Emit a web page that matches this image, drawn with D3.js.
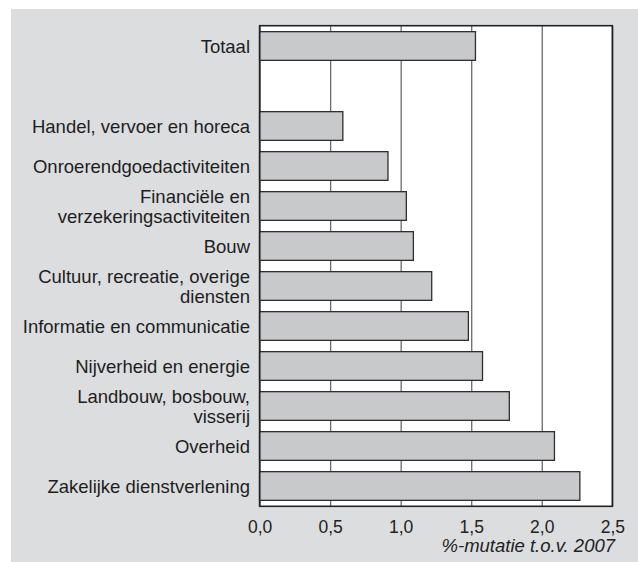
<!DOCTYPE html>
<html>
<head>
<meta charset="utf-8">
<script src="https://cdn.jsdelivr.net/npm/d3@7"></script>
<style>
  body { margin: 0; background: #fff; }
  svg { display: block; font-family: "Liberation Sans", Arial, sans-serif; }
</style>
</head>
<body>
<svg width="638" height="562"></svg>
<script>
// categories top to bottom; the empty one is the gap under Totaal
var categories = [
  "Totaal",
  "",
  "Handel, vervoer en horeca",
  "Onroerendgoedactiviteiten",
  "Financiële en\nverzekeringsactiviteiten",
  "Bouw",
  "Cultuur, recreatie, overige\ndiensten",
  "Informatie en communicatie",
  "Nijverheid en energie",
  "Landbouw, bosbouw,\nvisserij",
  "Overheid",
  "Zakelijke dienstverlening"
];
var values = [1.53, null, 0.59, 0.91, 1.04, 1.09, 1.22, 1.48, 1.58, 1.77, 2.09, 2.27];
var ticks = [0, 0.5, 1, 1.5, 2, 2.5];
var axisTitle = "%-mutatie t.o.v. 2007";

var svg = d3.select("svg"),
    pLeft = 259.6, pRight = 612.3, pTop = 25.7, pBottom = 506.3;

var data = categories.map(function(c, i) { return {cat: c, value: values[i]}; });

var x = d3.scaleLinear().domain([0, 2.5]).range([pLeft, pRight]),
    y = d3.scaleBand().domain(categories).range([pTop, pBottom])
          .paddingInner(0.283).paddingOuter(0.149);

// grey panel
svg.append("rect")
    .attr("x", 11).attr("y", 9)
    .attr("width", 627).attr("height", 553)
    .attr("fill", "#dcdddf");

svg.append("rect")
    .attr("x", pLeft).attr("y", pTop)
    .attr("width", pRight - pLeft).attr("height", pBottom - pTop)
    .attr("fill", "#fff");

// grid + tick labels
var ax = svg.append("g")
    .attr("transform", "translate(0," + pBottom + ")")
    .call(d3.axisBottom(x).tickValues(ticks)
      .tickSize(-(pBottom - pTop)).tickPadding(14)
      .tickFormat(function(d) { return d3.format(".1f")(d).replace(".", ","); }));
ax.select(".domain").remove();
ax.selectAll("line").attr("stroke", "#6a6a6a").attr("stroke-width", 1.3);
ax.selectAll("text")
    .attr("fill", "#222")
    .style("font-size", "17.5px")
    .style("font-family", "'Liberation Sans', Arial, sans-serif");

svg.append("text")
    .attr("x", 615).attr("y", 552)
    .attr("text-anchor", "end")
    .style("font-size", "18.5px")
    .style("font-style", "italic")
    .attr("fill", "#222")
    .text(axisTitle);

// bars
svg.selectAll(".bar")
  .data(data.filter(function(d) { return d.value != null; }))
  .enter().append("rect")
    .attr("class", "bar")
    .attr("x", x(0))
    .attr("y", function(d) { return y(d.cat); })
    .attr("width", function(d) { return x(d.value) - x(0); })
    .attr("height", y.bandwidth())
    .attr("fill", "#c8c9cb")
    .attr("stroke", "#2e2e2e")
    .attr("stroke-width", 1.3);

// frame
svg.append("rect")
    .attr("x", pLeft).attr("y", pTop)
    .attr("width", pRight - pLeft).attr("height", pBottom - pTop)
    .attr("fill", "none")
    .attr("stroke", "#222")
    .attr("stroke-width", 1.6);

// category labels
var labels = svg.selectAll(".label")
  .data(data.filter(function(d) { return d.cat !== ""; }))
  .enter().append("text")
    .attr("class", "label")
    .attr("text-anchor", "end")
    .attr("fill", "#1e1e1e")
    .style("font-size", "18.5px");

labels.each(function(d) {
  var lines = d.cat.split("\n"),
      cy = y(d.cat) + y.bandwidth() / 2 + 6.8 - (lines.length - 1) * 10,
      t = d3.select(this);
  lines.forEach(function(l, i) {
    t.append("tspan").attr("x", 250).attr("y", cy + i * 20).text(l);
  });
});
</script>
</body>
</html>
